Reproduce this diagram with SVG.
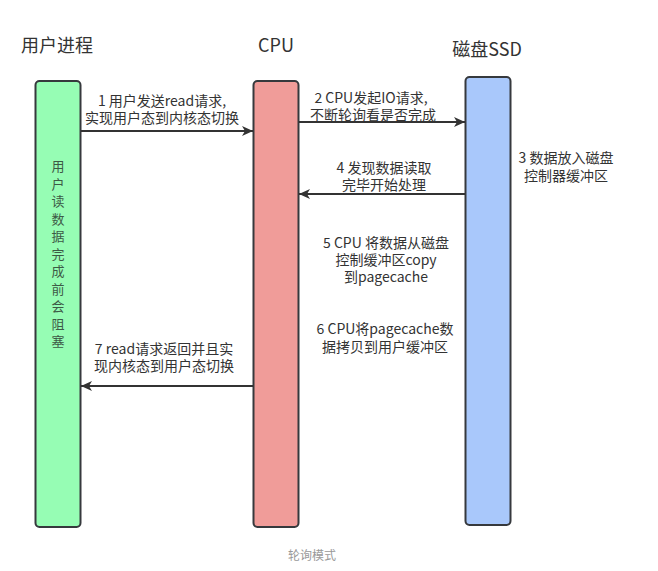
<svg xmlns="http://www.w3.org/2000/svg" width="658" height="571" viewBox="0 0 658 571">
<defs>
<marker id="arr" markerWidth="12" markerHeight="10" refX="11" refY="5" orient="auto" markerUnits="userSpaceOnUse">
<path d="M0,0 L11,5 L0,10 L3,5 Z" fill="#333"/>
</marker>
<style>
.bar{stroke:#36393d;stroke-width:2}
.t{font-family:"Noto Sans CJK SC","Liberation Sans",sans-serif;fill:#333;font-size:14px;text-anchor:middle;dominant-baseline:central}
.v{font-family:"Noto Sans CJK SC","Liberation Sans",sans-serif;fill:#3d5a46;font-size:13px;text-anchor:middle;dominant-baseline:central}
.h{font-family:"Noto Sans CJK SC","Liberation Sans",sans-serif;fill:#333;font-size:18px;text-anchor:middle;dominant-baseline:central}
.c{stroke:#333;stroke-width:2;fill:none;marker-end:url(#arr)}
</style>
</defs>
<rect width="658" height="571" fill="#fff"/>
<g id="user">
<text class="h" x="57" y="44">用户进程</text>
<rect class="bar" x="35.5" y="81" width="45" height="446" rx="4" fill="#96fdb4"/>
<text class="v" x="58" y="165"><tspan x="58" y="165">用</tspan><tspan x="58" y="182.5">户</tspan><tspan x="58" y="200">读</tspan><tspan x="58" y="217.5">数</tspan><tspan x="58" y="235">据</tspan><tspan x="58" y="252.5">完</tspan><tspan x="58" y="270">成</tspan><tspan x="58" y="287.5">前</tspan><tspan x="58" y="305">会</tspan><tspan x="58" y="322.5">阻</tspan><tspan x="58" y="340">塞</tspan></text>
</g>
<g id="cpu">
<text class="h" x="276" y="44">CPU</text>
<rect class="bar" x="253.5" y="81" width="45" height="446" rx="4" fill="#f09c99"/>
</g>
<g id="ssd">
<text class="h" x="487" y="48">磁盘SSD</text>
<rect class="bar" x="465.5" y="77" width="45" height="448" rx="4" fill="#a9c8fb"/>
<text class="t"><tspan x="566" y="157">3 数据放入磁盘</tspan><tspan x="566" y="175">控制器缓冲区</tspan></text>
</g>
<g id="connectors">
<line class="c" x1="81" y1="131" x2="253" y2="131"/>
<line class="c" x1="299" y1="122" x2="465" y2="122"/>
<line class="c" x1="465" y1="194" x2="299" y2="194"/>
<line class="c" x1="253" y1="386" x2="81" y2="386"/>
</g>
<g id="labels">
<text class="t"><tspan x="162" y="100">1 用户发送read请求,</tspan><tspan x="162" y="117">实现用户态到内核态切换</tspan></text>
<text class="t"><tspan x="371" y="97">2 CPU发起IO请求,</tspan><tspan x="373" y="114">不断轮询看是否完成</tspan></text>
<text class="t"><tspan x="384" y="167">4 发现数据读取</tspan><tspan x="384" y="184">完毕开始处理</tspan></text>
<text class="t"><tspan x="386" y="242">5 CPU  将数据从磁盘</tspan><tspan x="386" y="259">控制缓冲区copy</tspan><tspan x="386" y="276">到pagecache</tspan></text>
<text class="t"><tspan x="385" y="328">6 CPU将pagecache数</tspan><tspan x="385" y="346">据拷贝到用户缓冲区</tspan></text>
<text class="t"><tspan x="164" y="348">7 read请求返回并且实</tspan><tspan x="164" y="365">现内核态到用户态切换</tspan></text>
</g>
<text x="312" y="554" style="font-family:'Noto Sans CJK SC',sans-serif;font-size:12px;fill:#999;text-anchor:middle;dominant-baseline:central">轮询模式</text>
</svg>
